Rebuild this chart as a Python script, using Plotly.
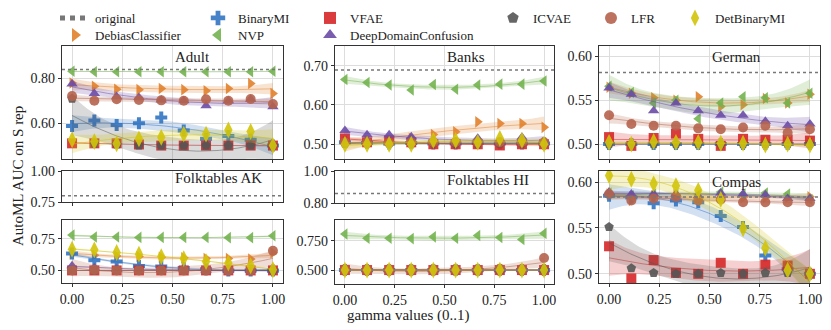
import numpy as np
import plotly.graph_objects as go

# gamma values (10 equally spaced)
gamma = [0.0, 0.111, 0.222, 0.333, 0.444, 0.556, 0.667, 0.778, 0.889, 1.0]

methods = ['DebiasClassifier', 'BinaryMI', 'NVP', 'VFAE', 'DeepDomainConfusion', 'ICVAE', 'LFR', 'DetBinaryMI']
colors = ['#e1812c', '#3274c1', '#73b24f', '#d62728', '#6b4ba6', '#555555', '#b5634c', '#d1c40a']
symbols = ['triangle-right', 'cross', 'triangle-left', 'square', 'triangle-up', 'pentagon', 'circle', 'diamond-tall']

# AUC of the original representation
orig_adult, orig_banks, orig_german = 0.84, 0.689, 0.5817
orig_ak, orig_hi, orig_compas = 0.80, 0.86, 0.5838

adult = {
    'DebiasClassifier': [0.78, 0.765, 0.752, 0.75, 0.755, 0.75, 0.745, 0.755, 0.777, 0.733],
    'BinaryMI': [0.588, 0.612, 0.592, 0.60, 0.625, 0.567, 0.53, 0.543, 0.526, 0.50],
    'NVP': [0.832, 0.83, 0.83, 0.83, 0.83, 0.83, 0.83, 0.83, 0.83, 0.832],
    'VFAE': [0.51, 0.51, 0.51, 0.505, 0.50, 0.50, 0.50, 0.50, 0.50, 0.50],
    'DeepDomainConfusion': [0.775, 0.733, 0.718, 0.715, 0.704, 0.70, 0.678, 0.70, 0.707, 0.674],
    'ICVAE': [0.71, 0.51, 0.505, 0.50, 0.50, 0.50, 0.50, 0.50, 0.50, 0.50],
    'LFR': [0.721, 0.70, 0.707, 0.704, 0.702, 0.70, 0.707, 0.70, 0.708, 0.686],
    'DetBinaryMI': [0.526, 0.518, 0.508, 0.53, 0.537, 0.551, 0.551, 0.57, 0.563, 0.50],
}
banks = {
    'DebiasClassifier': [0.505, 0.51, 0.51, 0.515, 0.525, 0.532, 0.557, 0.553, 0.553, 0.543],
    'BinaryMI': [0.505, 0.503, 0.502, 0.503, 0.502, 0.502, 0.503, 0.502, 0.502, 0.502],
    'NVP': [0.665, 0.657, 0.651, 0.638, 0.652, 0.64, 0.651, 0.653, 0.653, 0.661],
    'VFAE': [0.515, 0.505, 0.51, 0.505, 0.50, 0.50, 0.50, 0.497, 0.50, 0.50],
    'DeepDomainConfusion': [0.535, 0.524, 0.524, 0.519, 0.511, 0.505, 0.515, 0.505, 0.518, 0.505],
    'ICVAE': [0.502, 0.503, 0.502, 0.502, 0.503, 0.502, 0.502, 0.502, 0.503, 0.502],
    'LFR': [0.505, 0.505, 0.504, 0.505, 0.505, 0.505, 0.505, 0.505, 0.505, 0.505],
    'DetBinaryMI': [0.50, 0.50, 0.50, 0.50, 0.51, 0.51, 0.505, 0.515, 0.51, 0.50],
}
german = {
    'DebiasClassifier': [0.565, 0.558, 0.553, 0.55, 0.554, 0.543, 0.545, 0.552, 0.547, 0.557],
    'BinaryMI': [0.50, 0.50, 0.50, 0.50, 0.50, 0.50, 0.50, 0.50, 0.50, 0.50],
    'NVP': [0.566, 0.559, 0.547, 0.55, 0.529, 0.547, 0.554, 0.553, 0.547, 0.558],
    'VFAE': [0.508, 0.498, 0.507, 0.512, 0.506, 0.498, 0.506, 0.505, 0.505, 0.504],
    'DeepDomainConfusion': [0.564, 0.557, 0.538, 0.547, 0.538, 0.533, 0.533, 0.526, 0.521, 0.523],
    'ICVAE': [0.50, 0.50, 0.50, 0.50, 0.50, 0.50, 0.50, 0.50, 0.50, 0.50],
    'LFR': [0.533, 0.523, 0.521, 0.521, 0.518, 0.517, 0.519, 0.521, 0.513, 0.517],
    'DetBinaryMI': [0.502, 0.50, 0.503, 0.502, 0.502, 0.501, 0.501, 0.499, 0.50, 0.499],
}
folk_ak = {
    'DebiasClassifier': [0.63, 0.62, 0.615, 0.61, 0.605, 0.60, 0.595, 0.595, 0.59, 0.64],
    'BinaryMI': [0.635, 0.58, 0.57, 0.535, 0.53, 0.52, 0.51, 0.50, 0.50, 0.50],
    'NVP': [0.78, 0.765, 0.765, 0.762, 0.762, 0.762, 0.762, 0.76, 0.76, 0.775],
    'VFAE': [0.50, 0.50, 0.50, 0.50, 0.50, 0.50, 0.50, 0.50, 0.50, 0.50],
    'DeepDomainConfusion': [0.537, 0.52, 0.51, 0.51, 0.505, 0.505, 0.50, 0.50, 0.50, 0.50],
    'ICVAE': [0.50, 0.50, 0.50, 0.50, 0.50, 0.50, 0.50, 0.50, 0.50, 0.50],
    'LFR': [0.50, 0.505, 0.50, 0.50, 0.50, 0.50, 0.50, 0.50, 0.50, 0.655],
    'DetBinaryMI': [0.668, 0.663, 0.642, 0.629, 0.61, 0.594, 0.57, 0.558, 0.537, 0.505],
}
folk_hi = {
    'DebiasClassifier': [0.50, 0.50, 0.50, 0.50, 0.50, 0.50, 0.50, 0.50, 0.50, 0.50],
    'BinaryMI': [0.50, 0.50, 0.50, 0.50, 0.50, 0.50, 0.50, 0.50, 0.50, 0.50],
    'NVP': [0.81, 0.773, 0.773, 0.77, 0.785, 0.773, 0.797, 0.78, 0.762, 0.815],
    'VFAE': [0.50, 0.50, 0.50, 0.50, 0.50, 0.50, 0.50, 0.50, 0.50, 0.50],
    'DeepDomainConfusion': [0.505, 0.50, 0.50, 0.50, 0.50, 0.50, 0.50, 0.50, 0.50, 0.50],
    'ICVAE': [0.50, 0.50, 0.50, 0.50, 0.50, 0.50, 0.50, 0.50, 0.50, 0.50],
    'LFR': [0.50, 0.50, 0.50, 0.50, 0.50, 0.50, 0.50, 0.51, 0.50, 0.603],
    'DetBinaryMI': [0.50, 0.50, 0.50, 0.50, 0.50, 0.50, 0.50, 0.50, 0.50, 0.50],
}
compas = {
    'DebiasClassifier': [0.587, 0.58, 0.585, 0.586, 0.582, 0.585, 0.583, 0.583, 0.583, 0.584],
    'BinaryMI': [0.585, 0.583, 0.577, 0.58, 0.578, 0.563, 0.551, 0.52, 0.505, 0.50],
    'NVP': [0.588, 0.585, 0.587, 0.586, 0.586, 0.589, 0.587, 0.588, 0.587, 0.581],
    'VFAE': [0.53, 0.495, 0.515, 0.501, 0.50, 0.512, 0.50, 0.51, 0.509, 0.50],
    'DeepDomainConfusion': [0.589, 0.587, 0.587, 0.587, 0.585, 0.588, 0.587, 0.586, 0.582, 0.582],
    'ICVAE': [0.551, 0.506, 0.501, 0.50, 0.50, 0.501, 0.50, 0.501, 0.501, 0.50],
    'LFR': [0.587, 0.58, 0.582, 0.584, 0.58, 0.581, 0.578, 0.578, 0.578, 0.578],
    'DetBinaryMI': [0.607, 0.603, 0.598, 0.596, 0.591, 0.581, 0.549, 0.528, 0.504, 0.50],
}

# the page body has an 8px margin, so the figure is drawn 8px in from the window corner
OFF = 8
W, H = 831 - OFF, 330 - OFF
FONT = 'Liberation Serif'


def dom_x(a, b):
    return [(a - OFF) / W, (b - OFF) / W]


def dom_y(top, bottom):
    return [1 - (bottom - OFF) / H, 1 - (top - OFF) / H]


def px_x(a):
    return (a - OFF) / W


def px_y(a):
    return 1 - (a - OFF) / H


def quad_fit(x, y, xs, t=2.4):
    """Ajuste cuadrático con banda de confianza (como regplot order=2)."""
    x = np.asarray(x)
    y = np.asarray(y)
    X = np.vander(x, 3)
    beta, *_ = np.linalg.lstsq(X, y, rcond=None)
    resid = y - X @ beta
    s2 = resid @ resid / (len(x) - 3)
    xtx_inv = np.linalg.pinv(X.T @ X)
    Xs = np.vander(xs, 3)
    yhat = Xs @ beta
    se = np.sqrt(np.maximum(np.einsum('ij,jk,ik->i', Xs, xtx_inv, Xs) * s2, 0))
    return yhat, yhat - t * se, yhat + t * se


def hex_rgba(h, a):
    h = h.lstrip('#')
    r, g, b = int(h[0:2], 16), int(h[2:4], 16), int(h[4:6], 16)
    return f'rgba({r},{g},{b},{a})'


fig = go.Figure()

# panels: (axis index, data, original, x px, y px, y range, y ticks, tick format, show x labels)
panels = [
    (1, adult, orig_adult, (62, 283), (46, 159), [0.44, 0.945], [0.6, 0.8], '.2f', False),
    (2, banks, orig_banks, (335, 554), (46, 159), [0.4625, 0.75], [0.5, 0.6, 0.7], '.2f', False),
    (3, german, orig_german, (599, 820), (46, 159), [0.483, 0.612], [0.5, 0.55, 0.6], '.2f', False),
    (4, None, orig_ak, (62, 283), (171, 202), [0.75, 1.0], [0.75, 1.0], '.2f', False),
    (5, folk_ak, None, (62, 283), (220, 283), [0.40, 0.90], [0.5, 0.75], '.2f', True),
    (6, None, orig_hi, (335, 554), (171, 203), [0.80, 1.0], [0.8, 1.0], '.2f', False),
    (7, folk_hi, None, (335, 554), (220, 284), [0.38, 0.93], [0.5, 0.75], '.3f', True),
    (8, compas, orig_compas, (599, 820), (171, 283), [0.49, 0.612], [0.5, 0.55, 0.6], '.2f', True),
]

# one single-entry legend per legend slot: (legend id, text x px, row centre y px)
legend_slots = {
    'original': ('legend', 97, 18),
    'DebiasClassifier': ('legend2', 97, 35),
    'BinaryMI': ('legend3', 240, 18),
    'NVP': ('legend4', 240, 35),
    'VFAE': ('legend5', 352, 18),
    'DeepDomainConfusion': ('legend6', 352, 35),
    'ICVAE': ('legend7', 535, 18),
    'LFR': ('legend8', 633, 18),
    'DetBinaryMI': ('legend9', 717, 18),
}

xs = np.linspace(0, 1, 80)

# legend entry for the original line
fig.add_trace(go.Scatter(x=[None], y=[None], mode='lines', name='original',
                         line=dict(color='#777777', dash='dot', width=1.5),
                         legend='legend', showlegend=True))

first = True
for idx, data, orig, xpx, ypx, yr, yt, fmt, xlab in panels:
    xa = 'x' if idx == 1 else f'x{idx}'
    ya = 'y' if idx == 1 else f'y{idx}'
    axis_style = dict(showline=True, mirror=True, linecolor='#333333', linewidth=1.2,
                      ticks='outside', ticklen=3, tickcolor='#333333',
                      showgrid=True, gridcolor='#dddddd', gridwidth=1, zeroline=False,
                      tickfont=dict(family=FONT, size=14, color='#222222'))
    fig.layout[f'xaxis{idx if idx > 1 else ""}'] = dict(
        axis_style, domain=dom_x(*xpx), anchor=ya, range=[-0.05, 1.05],
        tickvals=[0, 0.25, 0.5, 0.75, 1.0], tickformat='.2f', showticklabels=xlab)
    fig.layout[f'yaxis{idx if idx > 1 else ""}'] = dict(
        axis_style, domain=dom_y(*ypx), anchor=xa, range=yr,
        tickvals=yt, tickformat=fmt)

    if orig is not None:
        fig.add_shape(type='line', xref=f'{xa} domain', yref=ya, x0=0, x1=1, y0=orig, y1=orig,
                      line=dict(color='#777777', dash='dot', width=1.5))

    if data is None:
        continue

    for m, c, s in zip(methods, colors, symbols):
        y = data[m]
        yhat, lo, hi = quad_fit(gamma, y, xs)
        fig.add_trace(go.Scatter(
            x=np.concatenate([xs, xs[::-1]]), y=np.concatenate([hi, lo[::-1]]),
            fill='toself', fillcolor=hex_rgba(c, 0.22), line=dict(width=0),
            mode='lines', hoverinfo='skip', showlegend=False, xaxis=xa, yaxis=ya))
        fig.add_trace(go.Scatter(
            x=xs, y=yhat, mode='lines', line=dict(color=hex_rgba(c, 0.5), width=1),
            hoverinfo='skip', showlegend=False, xaxis=xa, yaxis=ya))
        size = 12 if s == 'diamond-tall' else 10
        fig.add_trace(go.Scatter(
            x=gamma, y=y, mode='markers', name=m,
            marker=dict(symbol=s, color=c, size=size, opacity=0.9, line=dict(width=0)),
            legend=legend_slots[m][0], showlegend=first, xaxis=xa, yaxis=ya))
    first = False

# panel titles
titles = [('Adult', 'x', 57), ('Banks', 'x2', 57), ('German', 'x3', 57),
          ('Folktables AK', 'x4', 178), ('Folktables HI', 'x6', 180), ('Compas', 'x8', 182)]
for txt, xa, ypix in titles:
    fig.add_annotation(text=txt, xref=f'{xa} domain', x=0.5, xanchor='left',
                       yref='paper', y=px_y(ypix), yanchor='middle', showarrow=False,
                       font=dict(family=FONT, size=15, color='#222222'))

fig.add_annotation(text='AutoML AUC on S rep', xref='paper', yref='paper',
                   x=px_x(18), y=px_y(176), xanchor='center', yanchor='middle',
                   textangle=-90, showarrow=False,
                   font=dict(family=FONT, size=15, color='#222222'))
fig.add_annotation(text='gamma values (0..1)', xref='paper', yref='paper',
                   x=px_x(408), y=px_y(315), xanchor='center', yanchor='middle',
                   showarrow=False, font=dict(family=FONT, size=15, color='#222222'))

for name, (lid, tx, ty) in legend_slots.items():
    fig.layout[lid] = dict(x=px_x(tx - 42), xanchor='left', y=px_y(ty), yanchor='middle',
                           bgcolor='rgba(0,0,0,0)', borderwidth=0,
                           font=dict(family=FONT, size=13, color='#222222'),
                           itemsizing='constant')

fig.update_layout(
    width=W, height=H,
    margin=dict(l=0, r=0, t=0, b=0, autoexpand=False),
    plot_bgcolor='white', paper_bgcolor='white',
    font=dict(family=FONT, size=14, color='#222222'),
)

fig.write_html("out.html")
